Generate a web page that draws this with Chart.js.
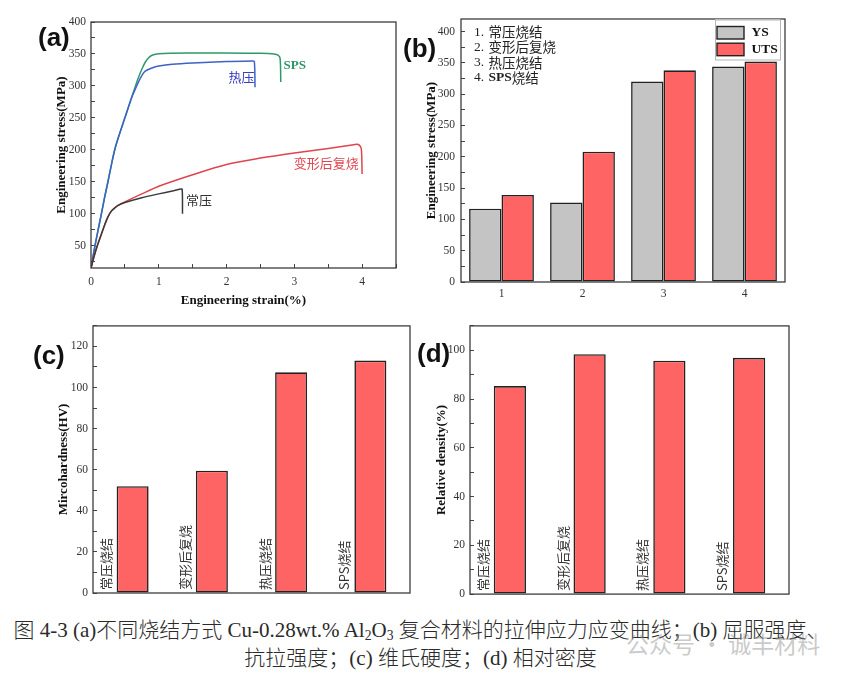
<!DOCTYPE html>
<html>
<head>
<meta charset="utf-8">
<script src="https://cdn.jsdelivr.net/npm/chart.js@4.4.1/dist/chart.umd.min.js"></script>
<style>
html,body{margin:0;padding:0;background:#fff;}
body{width:841px;height:673px;position:relative;overflow:hidden;}
canvas{position:absolute;}
.plabel{position:absolute;font-family:"Liberation Sans",Arial,sans-serif;font-weight:bold;font-size:26px;line-height:1;color:#111;}
.caption{position:absolute;left:0;width:841px;text-align:center;font-family:"Liberation Serif","Noto Sans CJK SC",serif;font-weight:300;font-size:21px;line-height:28px;color:#2a2a2a;white-space:nowrap;}
.caption sub{font-size:0.65em;vertical-align:-0.25em;line-height:0;}
.wm{position:absolute;left:626px;top:626px;font-family:"Noto Sans CJK SC",sans-serif;font-size:23px;color:rgba(150,150,150,0.5);white-space:nowrap;}
</style>
</head>
<body>
<canvas id="ca" width="420" height="310" style="left:0;top:0"></canvas>
<canvas id="cb" width="441" height="310" style="left:400px;top:0"></canvas>
<canvas id="cc" width="420" height="300" style="left:0;top:310px"></canvas>
<canvas id="cd" width="441" height="300" style="left:400px;top:310px"></canvas>
<div class="plabel" style="left:38px;top:24px">(a)</div>
<div class="plabel" style="left:403px;top:35px">(b)</div>
<div class="plabel" style="left:33px;top:342px">(c)</div>
<div class="plabel" style="left:417px;top:340px">(d)</div>
<div class="caption" style="top:616px">图 4-3 (a)不同烧结方式 Cu-0.28wt.% Al<sub>2</sub>O<sub>3</sub> 复合材料的拉伸应力应变曲线；(b) 屈服强度、</div>
<div class="caption" style="top:644px">抗拉强度；(c) 维氏硬度；(d) 相对密度</div>
<div class="wm">公众号 · 诚丰材料</div>
<script>
// ---------- data ----------
const curveNames = ['常压', '变形后复烧', '热压', 'SPS'];
const npStrain = [0,0.05,0.1,0.15,0.2,0.25,0.3,0.35,0.4,0.5,0.75,1.0,1.2,1.32,1.345,1.35];
const npStress = [15,35,52,67,82,95,104,109,113,117.5,125,131,135.5,138.5,138,100];
const rsStrain = [0,0.05,0.1,0.15,0.2,0.25,0.3,0.35,0.4,0.5,0.75,1.0,1.5,2.0,2.5,3.0,3.5,3.85,3.93,3.97,3.99,4.0];
const rsStress = [15,35,52,67,82,95,104,109,113,118.5,131,143,161,177,187,195,202,207.5,208.5,206,200,162];
const hpStrain = [0,0.05,0.1,0.15,0.2,0.25,0.3,0.35,0.4,0.5,0.6,0.65,0.7,0.75,0.8,0.9,1.0,1.2,1.5,2.0,2.38,2.41,2.42];
const hpStress = [15,45,72,98,125,150,176,200,218,250,282,294,306,316,323,328,331,334,336,338,339,338,298];
const spsStrain = [0,0.05,0.1,0.15,0.2,0.25,0.3,0.35,0.4,0.5,0.6,0.65,0.7,0.75,0.8,0.85,0.9,1.0,1.5,2.0,2.5,2.7,2.76,2.79,2.8];
const spsStress = [15,45,72,98,125,150,176,200,218,250,282,298,313,326,337,344,348,350.5,351.5,351.5,351,350,348,343,306];

const bCategories = ['1', '2', '3', '4'];
const ysValues = [117, 127, 320, 344];
const utsValues = [139, 208, 338, 352];

const methodNames = ['常压烧结', '变形后复烧', '热压烧结', 'SPS烧结'];
const hardnessValues = [52.0, 59.5, 107.4, 113.1];
const densityValues = [85.3, 98.4, 95.7, 96.9];

// curve annotation anchors (data space)
const curveNotes = [
  {text: 'SPS', x: 2.84, y: 331, color: '#2a9468', bold: true},
  {text: '热压', x: 2.03, y: 314, color: '#3a3fc0', bold: false},
  {text: '变形后复烧', x: 2.99, y: 180, color: '#e0444f', bold: false},
  {text: '常压', x: 1.40, y: 122, color: '#333333', bold: false}
];

// ---------- styling helpers ----------
const SERIF = '"Liberation Serif","Times New Roman","Noto Sans CJK SC",serif';
const tickFont = {family: SERIF, size: 11.5};
const titleFont = {family: SERIF, size: 13, weight: 'bold'};
const inwardGrid = {display: true, drawOnChartArea: false, drawTicks: true, tickLength: -4, color: '#444', tickColor: '#444', tickWidth: 1};
const noGrid = {display: false, drawTicks: false};
const toXY = (xs, ys) => xs.map((x, i) => ({x: x, y: ys[i]}));

const framePlugin = {
  id: 'frame',
  afterDraw(chart) {
    const {ctx, chartArea: a} = chart;
    ctx.save();
    ctx.strokeStyle = '#3c3c3c';
    ctx.lineWidth = 1.3;
    ctx.strokeRect(a.left, a.top, a.right - a.left, a.bottom - a.top);
    ctx.restore();
  }
};

function yAxis(min, max, step, labelEvery, width, labelPad, titleText, titlePad) {
  return {
    type: 'linear', min: min, max: max,
    border: {display: false},
    grid: inwardGrid,
    ticks: {stepSize: step, autoSkip: false, includeBounds: false, padding: labelPad, font: tickFont, color: '#333',
      callback: v => (Math.abs(v % labelEvery) < 1e-9 ? String(v) : '')},
    title: {display: true, text: titleText, font: titleFont, color: '#111', padding: {top: titlePad, bottom: 0}},
    afterFit: s => { s.width = width; }
  };
}

const baseOpts = {
  responsive: false, animation: false, devicePixelRatio: 1,
  plugins: {legend: {display: false}, tooltip: {enabled: false}}
};

// ---------- (a) ----------
const curveNotePlugin = {
  id: 'curveNotes',
  afterDatasetsDraw(chart) {
    const {ctx, scales: {x, y}} = chart;
    ctx.save();
    ctx.textAlign = 'left';
    ctx.textBaseline = 'middle';
    curveNotes.forEach(n => {
      ctx.font = n.bold ? 'bold 13px ' + SERIF : '13px "Noto Sans CJK SC",sans-serif';
      ctx.fillStyle = n.color;
      ctx.fillText(n.text, x.getPixelForValue(n.x), y.getPixelForValue(n.y));
    });
    ctx.restore();
  }
};

const lineStyle = (color) => ({borderColor: color, backgroundColor: color, borderWidth: 1.5, showLine: true, pointRadius: 0, tension: 0.3, fill: false});

new Chart(document.getElementById('ca'), {
  type: 'scatter',
  data: {datasets: [
    Object.assign({label: curveNames[0], data: toXY(npStrain, npStress)}, lineStyle('#3a3a3a')),
    Object.assign({label: curveNames[1], data: toXY(rsStrain, rsStress)}, lineStyle('#e0444f')),
    Object.assign({label: curveNames[2], data: toXY(hpStrain, hpStress)}, lineStyle('#3d62c8')),
    Object.assign({label: curveNames[3], data: toXY(spsStrain, spsStress)}, lineStyle('#2e9a6c'))
  ]},
  options: Object.assign({}, baseOpts, {
    layout: {padding: {left: 0, top: 22, right: 24, bottom: 0}},
    scales: {
      x: {
        type: 'linear', min: 0, max: 4.5,
        border: {display: false},
        grid: inwardGrid,
        ticks: {stepSize: 0.5, autoSkip: false, maxRotation: 0, includeBounds: false, padding: 11, font: tickFont, color: '#333',
          callback: v => (Number.isInteger(v) ? String(v) : '')},
        title: {display: true, text: 'Engineering strain(%)', font: titleFont, color: '#111', padding: {top: 0, bottom: 2}},
        afterFit: s => { s.height = 42; }
      },
      y: yAxis(15, 400, 25, 50, 91, 9, 'Engineering stress(MPa)', 54)
    }
  }),
  plugins: [framePlugin, curveNotePlugin]
});

// ---------- (b) ----------
const listPlugin = {
  id: 'methodList',
  afterDraw(chart) {
    const {ctx, chartArea: a} = chart;
    ctx.save();
    ctx.textAlign = 'left';
    ctx.textBaseline = 'middle';
    ctx.fillStyle = '#222';
    methodNames.forEach((name, i) => {
      let x = a.left + 13;
      const y = a.top + 13 + i * 15.3;
      const prefix = (i + 1) + '. ';
      ctx.font = '13.5px ' + SERIF;
      ctx.fillText(prefix, x, y);
      x += ctx.measureText(prefix).width + 1;
      const m = name.match(/^[A-Za-z]+/);
      if (m) {
        ctx.font = 'bold 13.5px ' + SERIF;
        ctx.fillText(m[0], x, y);
        x += ctx.measureText(m[0]).width;
      }
      ctx.font = '13.5px "Noto Sans CJK SC",sans-serif';
      ctx.fillText(m ? name.slice(m[0].length) : name, x, y);
    });
    ctx.restore();
  }
};

const boxLegendPlugin = {
  id: 'boxLegend',
  afterDraw(chart) {
    const {ctx, chartArea: a} = chart;
    const L = a.right - 70, T = a.top + 0.5, W = 65, H = 40;
    ctx.save();
    ctx.fillStyle = '#fff';
    ctx.fillRect(L, T, W, H);
    ctx.strokeStyle = '#b5b5b5';
    ctx.lineWidth = 1;
    ctx.strokeRect(L + 0.5, T + 0.5, W, H);
    chart.data.datasets.forEach((ds, i) => {
      const sy = T + 7 + i * 16.7;
      ctx.fillStyle = ds.backgroundColor;
      ctx.fillRect(L + 2, sy, 27, 12.5);
      ctx.strokeStyle = '#222';
      ctx.lineWidth = 1.4;
      ctx.strokeRect(L + 2, sy, 27, 12.5);
      ctx.fillStyle = '#111';
      ctx.font = 'bold 13.5px ' + SERIF;
      ctx.textBaseline = 'middle';
      ctx.textAlign = 'left';
      ctx.fillText(ds.label, L + 36.5, sy + 6.5);
    });
    ctx.restore();
  }
};

const barStyle = (fill) => ({backgroundColor: fill, borderColor: '#222', borderWidth: 1.6, borderSkipped: false});

new Chart(document.getElementById('cb'), {
  type: 'bar',
  data: {labels: bCategories, datasets: [
    Object.assign({label: 'YS', data: ysValues, categoryPercentage: 0.8, barPercentage: 1.0}, barStyle('#c4c4c4')),
    Object.assign({label: 'UTS', data: utsValues, categoryPercentage: 0.8, barPercentage: 1.0}, barStyle('#ff6464'))
  ]},
  options: Object.assign({}, baseOpts, {
    layout: {padding: {left: 0, top: 19, right: 56, bottom: 0}},
    scales: {
      x: {
        border: {display: false}, grid: noGrid,
        ticks: {padding: 5, font: tickFont, color: '#333', maxRotation: 0},
        afterFit: s => { s.height = 28; }
      },
      y: yAxis(0, 420, 25, 50, 61, 10, 'Engineering stress(MPa)', 24)
    }
  }),
  plugins: [framePlugin, listPlugin, boxLegendPlugin]
});

// ---------- (c), (d) ----------
const methodLabelPlugin = (offset) => ({
  id: 'methodLabels',
  afterDatasetsDraw(chart) {
    const {ctx, chartArea: a, scales: {x}} = chart;
    ctx.save();
    ctx.font = '13px "Noto Sans CJK SC",sans-serif';
    ctx.fillStyle = '#333';
    ctx.textAlign = 'left';
    ctx.textBaseline = 'middle';
    chart.data.labels.forEach((lab, i) => {
      ctx.save();
      ctx.translate(x.getPixelForValue(i) + offset, a.bottom - 3);
      ctx.rotate(-Math.PI / 2);
      ctx.fillText(lab, 0, 0);
      ctx.restore();
    });
    ctx.restore();
  }
});

function singleBarChart(id, values, yMax, padRight, padTop, yWidth, xHeight, labelPad, title, titlePad, offset) {
  return new Chart(document.getElementById(id), {
    type: 'bar',
    data: {labels: methodNames, datasets: [
      Object.assign({label: title, data: values, categoryPercentage: 1.0, barPercentage: 0.404}, barStyle('#ff6464'))
    ]},
    options: Object.assign({}, baseOpts, {
      layout: {padding: {left: 0, top: padTop, right: padRight, bottom: 0}},
      scales: {
        x: {
          border: {display: false}, grid: noGrid,
          ticks: {display: false},
          afterFit: s => { s.height = xHeight; }
        },
        y: yAxis(0, yMax, 10, 20, yWidth, labelPad, title, titlePad)
      }
    }),
    plugins: [framePlugin, methodLabelPlugin(offset)]
  });
}

singleBarChart('cc', hardnessValues, 130, 10, 10, 93, 17, 9, 'Mircohardness(HV)', 55.5, -26.5);
singleBarChart('cd', densityValues, 110, 52, 9, 70, 15, 9, 'Relative density(%)', 34, -27);
</script>
</body>
</html>
